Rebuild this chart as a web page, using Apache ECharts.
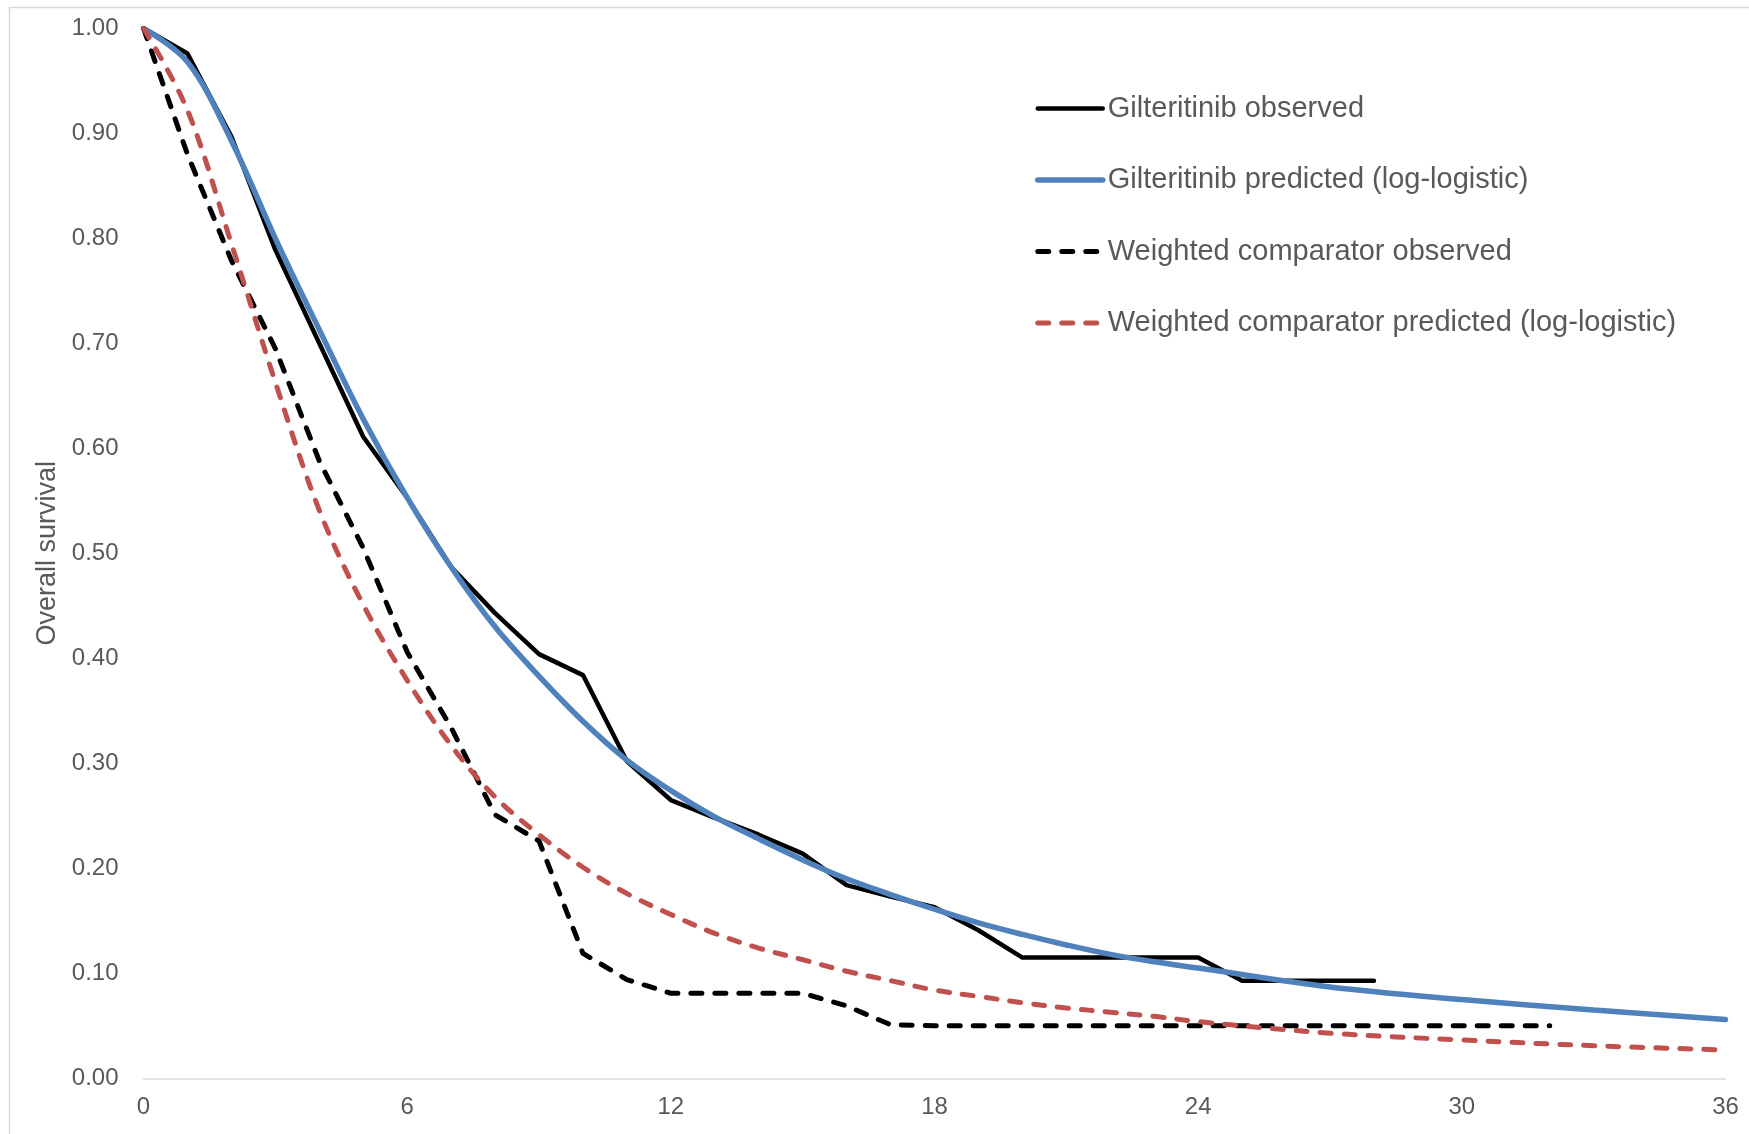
<!DOCTYPE html>
<html>
<head>
<meta charset="utf-8">
<script src="https://cdn.jsdelivr.net/npm/echarts@6/dist/echarts.min.js"></script>
<style>
html,body{margin:0;padding:0;background:#fff;}
#chart{width:1749px;height:1134px;}
</style>
</head>
<body>
<div id="chart"></div>
<script>
// Months and survival values
const gilObsMonths = [0,1,2,3,4,5,6,7,8,9,10,11,12,13,14,15,16,17,18,19,20,21,22,23,24,25,26,27,28];
const gilObsValues = [1.00,0.976,0.897,0.789,0.700,0.611,0.553,0.487,0.443,0.404,0.384,0.302,0.265,0.248,0.232,0.214,0.184,0.173,0.163,0.141,0.115,0.115,0.115,0.115,0.115,0.093,0.093,0.093,0.093];

const gilPredMonths = [0,1,2,3,4,5,6,7,8,9,10,11,12,13,14,15,16,17,18,19,20,21,22,23,24,27,30,33,36];
const gilPredValues = [1.00,0.968,0.893,0.800,0.713,0.628,0.553,0.487,0.430,0.383,0.340,0.303,0.274,0.249,0.228,0.208,0.190,0.175,0.161,0.148,0.137,0.127,0.118,0.111,0.105,0.087,0.075,0.065,0.056];

const compObsMonths = [0,1,2,3,4,5,6,7,8,9,10,11,12,13,14,15,16,17,18,20,22,24,26,28,30,32];
const compObsValues = [1.00,0.880,0.779,0.695,0.588,0.505,0.406,0.334,0.251,0.226,0.119,0.094,0.081,0.081,0.081,0.081,0.069,0.051,0.050,0.050,0.050,0.050,0.050,0.050,0.050,0.050];

const compPredMonths = [0,1,2,3,4,5,6,7,8,9,10,11,12,13,14,15,16,17,18,19,20,21,22,23,24,27,30,33,36];
const compPredValues = [1.00,0.922,0.795,0.663,0.541,0.451,0.379,0.317,0.268,0.232,0.201,0.176,0.156,0.138,0.124,0.113,0.102,0.093,0.084,0.078,0.072,0.067,0.063,0.059,0.054,0.043,0.0365,0.031,0.027];

const seriesNames = [
  'Gilteritinib observed',
  'Gilteritinib predicted (log-logistic)',
  'Weighted comparator observed',
  'Weighted comparator predicted (log-logistic)'
];
const xTicks = {min: 0, max: 36, interval: 6};
const yTicks = {min: 0, max: 1, interval: 0.1};

function pairs(xs, ys){ return xs.map((x,i)=>[x, ys[i]]); }

const FONT = '"Liberation Sans", Arial, sans-serif';
const GREY = '#595959';

const chart = echarts.init(document.getElementById('chart'), null, {renderer:'canvas'});
chart.setOption({
  animation: false,
  backgroundColor: '#ffffff',
  textStyle: {fontFamily: FONT},
  graphic: [{
    type: 'rect',
    shape: {x: 9.5, y: 7.5, width: 1800, height: 1200},
    style: {fill: 'none', stroke: '#d9d9d9', lineWidth: 1.5},
    silent: true, z: -1
  }],
  grid: {left: 143.5, right: 23.5, top: 28.3, bottom: 55.7, containLabel: false},
  legend: {
    orient: 'vertical',
    left: 1035,
    top: 94,
    padding: 0,
    itemWidth: 65,
    itemHeight: 28,
    itemGap: 42.5,
    data: seriesNames,
    textStyle: {fontFamily: FONT, fontSize: 29, color: GREY},
    lineStyle: {width: 'inherit'},
    itemStyle: {opacity: 0},
    selectedMode: false
  },
  xAxis: {
    type: 'value',
    min: xTicks.min, max: xTicks.max, interval: xTicks.interval,
    axisLine: {show: true, lineStyle: {color: '#d9d9d9', width: 1.5}},
    axisTick: {show: false},
    splitLine: {show: false},
    axisLabel: {fontFamily: FONT, fontSize: 24, color: GREY, margin: 17}
  },
  yAxis: {
    type: 'value',
    min: yTicks.min, max: yTicks.max, interval: yTicks.interval,
    name: 'Overall survival',
    nameLocation: 'middle',
    nameRotate: 90,
    nameGap: 80,
    nameTextStyle: {fontFamily: FONT, fontSize: 27, color: GREY},
    axisLine: {show: false},
    axisTick: {show: false},
    splitLine: {show: false},
    axisLabel: {fontFamily: FONT, fontSize: 24, color: GREY, margin: 25,
      formatter: v => v.toFixed(2)}
  },
  series: [
    {
      name: seriesNames[0], type: 'line', symbol: 'none',
      data: pairs(gilObsMonths, gilObsValues),
      lineStyle: {color: '#000000', width: 4.5, join: 'round', cap: 'round'},
      itemStyle: {color: '#000000'}, z: 2
    },
    {
      name: seriesNames[1], type: 'line', symbol: 'none', smooth: 0.35,
      data: pairs(gilPredMonths, gilPredValues),
      lineStyle: {color: '#4f81bd', width: 5.5, cap: 'round'},
      itemStyle: {color: '#4f81bd'}, z: 3
    },
    {
      name: seriesNames[2], type: 'line', symbol: 'none',
      data: pairs(compObsMonths, compObsValues),
      lineStyle: {color: '#000000', width: 5, type: [11, 13], cap: 'round', join: 'round'},
      itemStyle: {color: '#000000'}, z: 4
    },
    {
      name: seriesNames[3], type: 'line', symbol: 'none', smooth: 0.35,
      data: pairs(compPredMonths, compPredValues),
      lineStyle: {color: '#c0504d', width: 5, type: [11, 13], cap: 'round'},
      itemStyle: {color: '#c0504d'}, z: 5
    }
  ]
});
</script>
</body>
</html>
